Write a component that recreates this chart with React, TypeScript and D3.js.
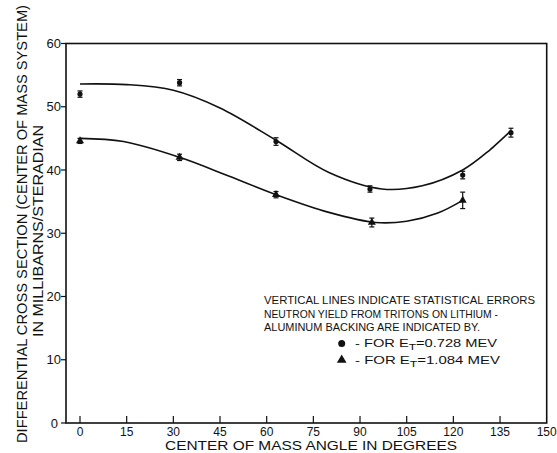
import React from "react";
import * as d3 from "d3";

// Data: 0.728 MeV (circles)
const anglesLow = [0, 32, 63, 93.2, 123, 138.5];
const valuesLow = [52.0, 53.8, 44.5, 37.0, 39.2, 45.9];
const errLow = [0.5, 0.5, 0.6, 0.5, 0.6, 0.7];
// Data: 1.084 MeV (triangles)
const anglesHigh = [0, 32, 63, 93.8, 123];
const valuesHigh = [44.6, 42.0, 36.1, 31.7, 35.2];
const errHigh = [0.4, 0.5, 0.5, 0.7, 1.3];
// Fitted curves
const curveLowX = [0, 15, 30, 45, 63, 80, 97, 110, 123, 131.8, 138.5];
const curveLowY = [53.6, 53.5, 52.6, 49.8, 44.7, 39.6, 37.0, 37.5, 40.0, 43.2, 46.2];
const curveHighX = [0, 14, 32, 48, 63, 80, 95, 105, 115, 123];
const curveHighY = [45.0, 44.5, 42.0, 39.0, 36.1, 33.3, 31.7, 31.9, 33.2, 35.2];

const xTicks = [0, 15, 30, 45, 60, 75, 90, 105, 120, 135, 150];
const yTicks = [0, 10, 20, 30, 40, 50, 60];

const FONT = "'Liberation Sans', Arial, sans-serif";

export default function App() {
  const W = 557, H = 453;
  const x = d3.scaleLinear().domain([0, 150]).range([80, 546.7]);
  const y = d3.scaleLinear().domain([0, 60]).range([423, 43.5]);
  const left = 66, right = 546.7, top = 43.5, bottom = 423;
  const line = d3.line<[number, number]>().x(d => x(d[0])).y(d => y(d[1])).curve(d3.curveCatmullRom.alpha(0.5));
  const lowPts = curveLowX.map((v, i) => [v, curveLowY[i]] as [number, number]);
  const highPts = curveHighX.map((v, i) => [v, curveHighY[i]] as [number, number]);
  const tri = d3.symbol().type(d3.symbolTriangle).size(28)();

  return (
    <svg width={W} height={H} style={{ position: "absolute", left: 0, top: 0, background: "#fff" }}>
      <rect x={0} y={0} width={W} height={H} fill="#fff" />
      {/* frame */}
      <rect x={left} y={top} width={right - left} height={bottom - top} fill="none" stroke="#111" strokeWidth={1.6} />
      {/* y ticks */}
      {yTicks.map(t => (
        <g key={"y" + t}>
          <line x1={left - 5} x2={left} y1={y(t)} y2={y(t)} stroke="#111" strokeWidth={1.2} />
          <text x={t === 0 ? left - 8 : left - 5} y={y(t)} dy="0.35em" textAnchor="end" fontFamily={FONT} fontSize={13} fill="#111">{t}</text>
        </g>
      ))}
      {/* x ticks */}
      {xTicks.map(t => (
        <g key={"x" + t}>
          {t < 150 && <line x1={x(t)} x2={x(t)} y1={bottom} y2={bottom - 7} stroke="#111" strokeWidth={1.2} />}
          <text x={x(t)} y={435.5} textAnchor="middle" fontFamily={FONT} fontSize={12} fill="#111">{t}</text>
        </g>
      ))}
      {/* axis titles */}
      <text x={311} y={449.5} textAnchor="middle" fontFamily={FONT} fontSize={13} fill="#111" textLength={292} lengthAdjust="spacingAndGlyphs">CENTER OF MASS ANGLE IN DEGREES</text>
      <text transform="translate(27,224) rotate(-90)" textAnchor="middle" fontFamily={FONT} fontSize={14} fill="#111" textLength={438} lengthAdjust="spacingAndGlyphs">DIFFERENTIAL CROSS SECTION (CENTER OF MASS SYSTEM)</text>
      <text transform="translate(43,231) rotate(-90)" textAnchor="middle" fontFamily={FONT} fontSize={14} fill="#111" textLength={212} lengthAdjust="spacingAndGlyphs">IN MILLIBARNS/STERADIAN</text>
      {/* curves */}
      <path d={line(lowPts) || ""} fill="none" stroke="#111" strokeWidth={1.6} />
      <path d={line(highPts) || ""} fill="none" stroke="#111" strokeWidth={1.6} />
      {/* error bars + markers low */}
      {anglesLow.map((a, i) => (
        <g key={"l" + i}>
          <line x1={x(a)} x2={x(a)} y1={y(valuesLow[i] - errLow[i])} y2={y(valuesLow[i] + errLow[i])} stroke="#111" strokeWidth={1.2} />
          <line x1={x(a) - 2.5} x2={x(a) + 2.5} y1={y(valuesLow[i] - errLow[i])} y2={y(valuesLow[i] - errLow[i])} stroke="#111" strokeWidth={1.2} />
          <line x1={x(a) - 2.5} x2={x(a) + 2.5} y1={y(valuesLow[i] + errLow[i])} y2={y(valuesLow[i] + errLow[i])} stroke="#111" strokeWidth={1.2} />
          <circle cx={x(a)} cy={y(valuesLow[i])} r={2.6} fill="#111" />
        </g>
      ))}
      {anglesHigh.map((a, i) => (
        <g key={"h" + i}>
          <line x1={x(a)} x2={x(a)} y1={y(valuesHigh[i] - errHigh[i])} y2={y(valuesHigh[i] + errHigh[i])} stroke="#111" strokeWidth={1.2} />
          <line x1={x(a) - 2.5} x2={x(a) + 2.5} y1={y(valuesHigh[i] - errHigh[i])} y2={y(valuesHigh[i] - errHigh[i])} stroke="#111" strokeWidth={1.2} />
          <line x1={x(a) - 2.5} x2={x(a) + 2.5} y1={y(valuesHigh[i] + errHigh[i])} y2={y(valuesHigh[i] + errHigh[i])} stroke="#111" strokeWidth={1.2} />
          <path d={tri || ""} transform={`translate(${x(a)},${y(valuesHigh[i])})`} fill="#111" />
        </g>
      ))}
      {/* annotation */}
      <g fontFamily={FONT} fontSize={11} fill="#111">
        <text x={264} y={304} textLength={271} lengthAdjust="spacingAndGlyphs">VERTICAL LINES INDICATE STATISTICAL ERRORS</text>
        <text x={264} y={317.5} textLength={234} lengthAdjust="spacingAndGlyphs">NEUTRON YIELD FROM TRITONS ON LITHIUM -</text>
        <text x={264} y={331} textLength={216} lengthAdjust="spacingAndGlyphs">ALUMINUM BACKING ARE INDICATED BY.</text>
        <circle cx={341.7} cy={343.5} r={3.5} fill="#111" />
        <text x={355} y={347} textLength={142} lengthAdjust="spacingAndGlyphs">- FOR E<tspan dy="3" fontSize={9}>T</tspan><tspan dy="-3">=0.728 MEV</tspan></text>
        <path d={d3.symbol().type(d3.symbolTriangle).size(40)() || ""} transform="translate(341.7,360)" fill="#111" />
        <text x={355} y={363.5} textLength={145} lengthAdjust="spacingAndGlyphs">- FOR E<tspan dy="3" fontSize={9}>T</tspan><tspan dy="-3">=1.084 MEV</tspan></text>
      </g>
    </svg>
  );
}
